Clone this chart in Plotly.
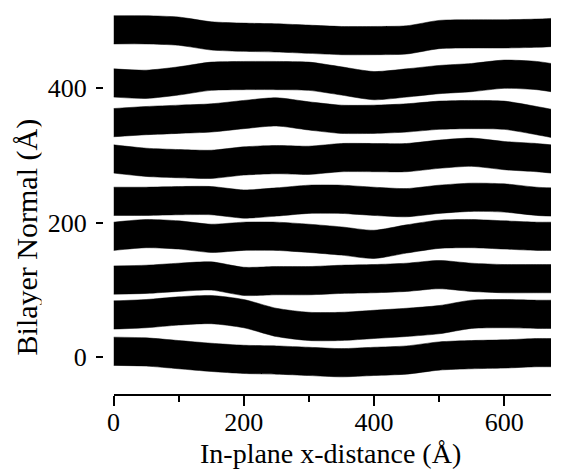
import plotly.graph_objects as go

# In-plane sample positions (Å)
x_pos = [0, 50, 100, 150, 200, 250, 300, 350, 400, 450, 500, 550, 600, 650, 672]

# Bilayer centre-line heights (Å) read at each x position, bottom to top
bilayer_1 = [9, 8, 4, 0, -3, -4, -6, -8, -6, -4, 2, 4, 5, 7, 7]
bilayer_2 = [63, 65, 69, 71, 65, 52, 46, 46, 49, 52, 56, 64, 65, 64, 64]
bilayer_3 = [115, 116, 119, 121, 113, 114, 114, 116, 117, 119, 123, 119, 117, 117, 117]
bilayer_4 = [180, 184, 182, 177, 180, 180, 177, 173, 168, 176, 183, 184, 182, 180, 180]
bilayer_5 = [232, 232, 233, 233, 228, 231, 235, 235, 232, 230, 235, 238, 237, 232, 231]
bilayer_6 = [295, 290, 288, 287, 292, 294, 293, 297, 297, 297, 302, 305, 300, 297, 295]
bilayer_7 = [349, 352, 354, 356, 361, 365, 359, 354, 354, 356, 360, 361, 360, 352, 348]
bilayer_8 = [408, 406, 411, 418, 419, 419, 418, 411, 404, 408, 413, 416, 421, 419, 416]
bilayer_9 = [487, 487, 485, 478, 476, 475, 473, 471, 471, 472, 480, 481, 481, 482, 483]

bilayer_thickness = 42  # Å

x_ticks = [0, 200, 400, 600]
x_minor_ticks = [100, 300, 500]
y_ticks = [0, 200, 400]

x_title = "In-plane x-distance (Å)"
y_title = "Bilayer Normal (Å)"

bands = [bilayer_1, bilayer_2, bilayer_3, bilayer_4, bilayer_5,
         bilayer_6, bilayer_7, bilayer_8, bilayer_9]

FONT = "Liberation Serif"

fig = go.Figure()
half = bilayer_thickness / 2.0
for b in bands:
    lower = [c - half for c in b]
    upper = [c + half for c in b]
    fig.add_trace(go.Scatter(x=x_pos, y=lower, mode="lines",
                             line=dict(width=0.5, color="black", shape="spline", smoothing=0.7),
                             hoverinfo="skip", showlegend=False))
    fig.add_trace(go.Scatter(x=x_pos, y=upper, mode="lines",
                             line=dict(width=0.5, color="black", shape="spline", smoothing=0.7),
                             fill="tonexty", fillcolor="black",
                             hoverinfo="skip", showlegend=False))

# small marks at the left of each bilayer
fig.add_trace(go.Scatter(x=[-20] * len(bands), y=[b[0] for b in bands], mode="markers",
                         marker=dict(symbol="line-ns", size=5,
                                     line=dict(width=1, color="#444")),
                         cliponaxis=False, hoverinfo="skip", showlegend=False))

# the page adds an 8px body margin, so the figure is 8px smaller than the window
fig.update_layout(
    width=554, height=461,
    margin=dict(l=92, r=11, t=3, b=75),
    plot_bgcolor="white", paper_bgcolor="white",
    font=dict(family=FONT, color="black"),
    xaxis=dict(
        domain=[0.03, 1], range=[0, 672], automargin=False,
        showline=True, linewidth=2, linecolor="black",
        ticks="outside", ticklen=10, tickwidth=2, tickcolor="black",
        ticklabelstandoff=-6,
        tickvals=x_ticks, ticktext=[str(v) for v in x_ticks],
        minor=dict(tickvals=x_minor_ticks, ticks="outside", ticklen=6,
                   tickwidth=2, tickcolor="black"),
        showgrid=False, zeroline=False,
        tickfont=dict(family=FONT, size=26),
    ),
    yaxis=dict(
        anchor="free", position=0.0067, range=[-54.5, 515], automargin=False,
        showline=False,
        ticks="outside", ticklen=7, tickwidth=1.5, tickcolor="black",
        ticklabelstandoff=4,
        tickvals=y_ticks, ticktext=[str(v) for v in y_ticks],
        showgrid=False, zeroline=False,
        tickfont=dict(family=FONT, size=26),
    ),
    annotations=[
        dict(text=x_title, xref="paper", yref="paper", x=0.511, y=-0.156,
             xanchor="center", yanchor="middle", showarrow=False,
             font=dict(family=FONT, size=28)),
        dict(text=y_title, xref="paper", yref="paper", x=-0.163, y=0.41,
             xanchor="center", yanchor="middle", showarrow=False, textangle=-90,
             height=30, font=dict(family=FONT, size=30)),
    ],
)

fig.write_html("out.html")
